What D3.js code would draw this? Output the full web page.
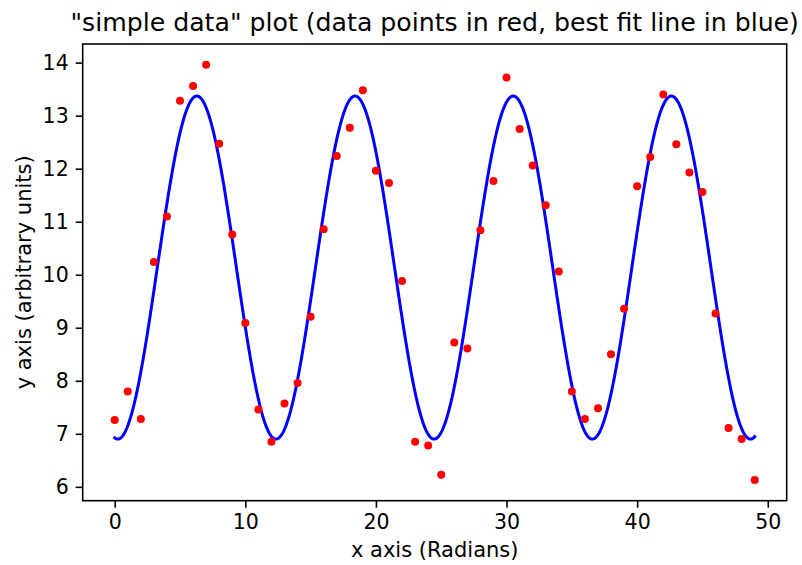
<!DOCTYPE html>
<html><head><meta charset="utf-8">
<script src="https://cdn.jsdelivr.net/npm/d3@7"></script>
<style>body{margin:0;background:#fff}svg{display:block}text{font-family:"DejaVu Sans",sans-serif;fill:#000}</style>
</head><body>
<script>
// data points (x in radians, y arbitrary units)
const xValues = d3.range(0, 50);
const yValues = [7.26,7.80,7.28,10.24,11.10,13.28,13.56,13.96,12.47,10.76,
  9.09,7.46,6.85,7.57,7.96,9.21,10.86,12.24,12.77,13.48,
  11.96,11.73,9.88,6.85,6.78,6.23,8.72,8.61,10.84,11.77,
  13.72,12.75,12.06,11.31,10.06,7.80,7.28,7.48,8.50,9.36,
  11.67,12.22,13.40,12.46,11.93,11.56,9.27,7.11,6.90,6.13];
// best fit parameters: amplitude, angular frequency, phase, offset
const fitParams = [3.235, 0.5188, -1.692, 10.135];
const xTicks = [0,10,20,30,40,50];
const yTicks = [6,7,8,9,10,11,12,13,14];
const titleText = '"simple data" plot (data points in red, best fit line in blue)';

const W = 802, H = 565;
const L = 82.7, R = 786.7, T = 44, B = 500.7;
const svg = d3.select("body").append("svg").attr("width", W).attr("height", H);

const xMin = d3.min(xValues), xMax = d3.max(xValues);
const yMin = d3.min(yValues), yMax = d3.max(yValues);
const xPad = (xMax - xMin) * 0.05, yPad = (yMax - yMin) * 0.05;
const x = d3.scaleLinear().domain([xMin - xPad, xMax + xPad]).range([L, R]);
const y = d3.scaleLinear().domain([yMin - yPad, yMax + yPad]).range([B, T]);

// fit curve
const [A, w, ph, c] = fitParams;
const fitX = d3.range(0, 1001).map(i => xMin + (xMax - xMin) * i / 1000);
const line = d3.line().x(d => x(d)).y(d => y(A * Math.sin(w * d + ph) + c));
svg.append("path").datum(fitX).attr("d", line)
  .attr("fill", "none").attr("stroke", "#0000ff").attr("stroke-width", 3)
  .attr("stroke-linejoin", "round").attr("stroke-linecap", "square");

// points
svg.append("g").selectAll("circle").data(xValues).join("circle")
  .attr("cx", d => x(d)).attr("cy", (d, i) => y(yValues[i])).attr("r", 4)
  .attr("fill", "#ff0000");

// axes
const xAxis = d3.axisBottom(x).tickValues(xTicks).tickSize(7).tickPadding(7).tickFormat(d3.format("d"));
const yAxis = d3.axisLeft(y).tickValues(yTicks).tickSize(7).tickPadding(7).tickFormat(d3.format("d"));
const gx = svg.append("g").attr("transform", `translate(0,${B})`).call(xAxis);
const gy = svg.append("g").attr("transform", `translate(${L},0)`).call(yAxis);
[gx, gy].forEach(g => {
  g.select(".domain").remove();
  g.selectAll(".tick line").attr("stroke", "#000").attr("stroke-width", 1.6);
  g.selectAll(".tick text").attr("font-size", 20.5).attr("font-family", "DejaVu Sans").attr("fill", "#000");
});

// frame
svg.append("rect").attr("x", L).attr("y", T).attr("width", R - L).attr("height", B - T)
  .attr("fill", "none").attr("stroke", "#000").attr("stroke-width", 1.6);

// labels
svg.append("text").attr("x", (L + R) / 2).attr("y", 31).attr("text-anchor", "middle")
  .attr("font-size", 25.2).text(titleText);
svg.append("text").attr("x", (L + R) / 2).attr("y", 557).attr("text-anchor", "middle")
  .attr("font-size", 21).text("x axis (Radians)");
svg.append("text").attr("transform", `translate(31,${(T + B) / 2}) rotate(-90)`)
  .attr("text-anchor", "middle").attr("font-size", 21).text("y axis (arbitrary units)");
</script>
</body></html>
